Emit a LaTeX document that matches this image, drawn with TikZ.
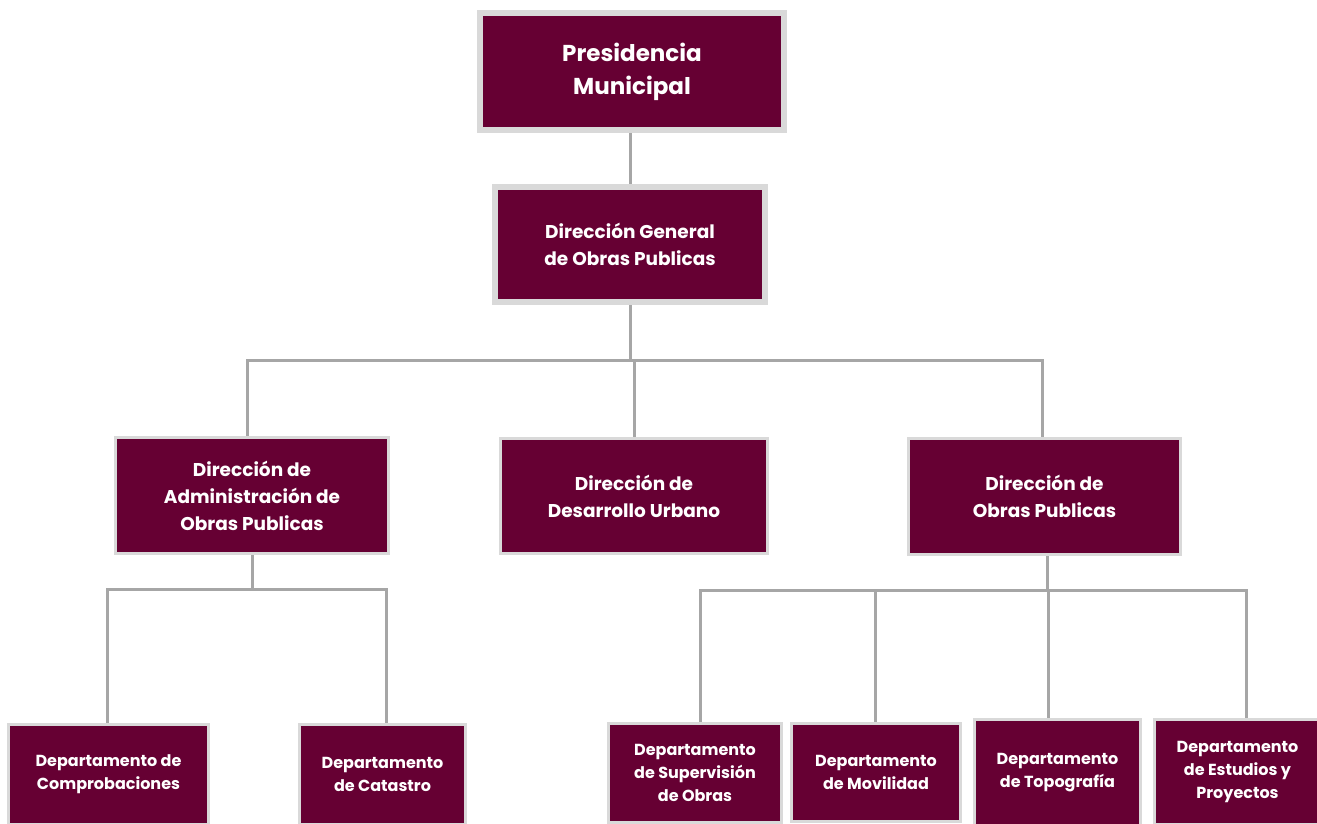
\documentclass[tikz,border=0pt]{standalone}
\usepackage{fontspec}
\setmainfont{Poppins}
\usetikzlibrary{backgrounds}
\definecolor{unitfill}{HTML}{660033}
\definecolor{unitframe}{HTML}{D9D9D9}
\definecolor{wirecol}{HTML}{A6A6A6}
\tikzset{
  unit/.style={fill=unitfill, draw=unitframe, text=white, align=center, inner sep=0pt},
  heavyframe/.style={line width=6pt},
  lightframe/.style={line width=3pt},
  toptext/.style={font=\fontsize{23}{33}\selectfont\bfseries},
  midtext/.style={font=\fontsize{18.5}{27}\selectfont\bfseries},
  lowtext/.style={font=\fontsize{16}{23}\selectfont\bfseries},
  wire/.style={draw=wirecol, line width=3pt},
}
\begin{document}
\begin{tikzpicture}[x=1pt,y=-1pt]
\useasboundingbox (0,0) rectangle (1317,823);
\clip (0,0) rectangle (1317,823);

% top levels
\node[unit, heavyframe, toptext, minimum width=304pt, minimum height=117pt] (pres) at (632,71.5) {Presidencia\\Municipal};
\node[unit, heavyframe, midtext, minimum width=270pt, minimum height=115pt] (dg) at (630,244.5) {Dirección General\\de Obras Publicas};

% directorates
\node[unit, lightframe, midtext, minimum width=273pt, minimum height=116pt] (adm) at (252,495.5) {Dirección de\\Administración de\\Obras Publicas};
\node[unit, lightframe, midtext, minimum width=267pt, minimum height=115pt] (des) at (634,496) {Dirección de\\Desarrollo Urbano};
\node[unit, lightframe, midtext, minimum width=272pt, minimum height=116pt] (obr) at (1044.5,496.5) {Dirección de\\Obras Publicas};

% departments
\node[unit, lightframe, lowtext, minimum width=200pt, minimum height=100pt] (comp) at (108.5,774.5) {Departamento de\\Comprobaciones};
\node[unit, lightframe, lowtext, minimum width=166pt, minimum height=100pt] (cat) at (382.5,774.5) {Departamento\\de Catastro};
\node[unit, lightframe, lowtext, minimum width=173pt, minimum height=99pt] (sup) at (695,773) {Departamento\\de Supervisión\\de Obras};
\node[unit, lightframe, lowtext, minimum width=169pt, minimum height=98pt] (mov) at (876,772.5) {Departamento\\de Movilidad};
\node[unit, lightframe, lowtext, minimum width=166pt, minimum height=106pt] (topo) at (1057.5,772.5) {Departamento\\de Topografía};
\node[unit, lightframe, lowtext, minimum width=166pt, minimum height=105pt] (est) at (1237.5,772) {Departamento\\de Estudios y\\Proyectos};

% bus points
\coordinate (bL) at (247,360.5);
\coordinate (bR) at (1042,360.5);
\coordinate (cL) at (107,589);
\coordinate (cM) at (252,589);
\coordinate (cR) at (386,589);
\coordinate (dM) at (1047,590);
\coordinate (d1) at (700,590);
\coordinate (d2) at (875,590);
\coordinate (d3) at (1048,590);
\coordinate (d4) at (1246,590);

\begin{scope}[on background layer]
  \draw[wire] (pres.south -| dg.north) -- (dg.north);
  \draw[wire] (dg.south) -- (dg.south |- bL);
  \draw[wire] (bL |- adm.north) -- (bL) -- (bR) -- (bR |- obr.north);
  \draw[wire] (des.north) -- (des.north |- bL);
  \draw[wire] (cM |- adm.south) -- (cM);
  \draw[wire] (cL |- comp.north) -- (cL) -- (cR) -- (cR |- cat.north);
  \draw[wire] (dM |- obr.south) -- (dM);
  \draw[wire] (d1 |- sup.north) -- (d1) -- (d4) -- (d4 |- est.north);
  \draw[wire] (d2) -- (d2 |- mov.north);
  \draw[wire] (d3) -- (d3 |- topo.north);
\end{scope}
\end{tikzpicture}
\end{document}
